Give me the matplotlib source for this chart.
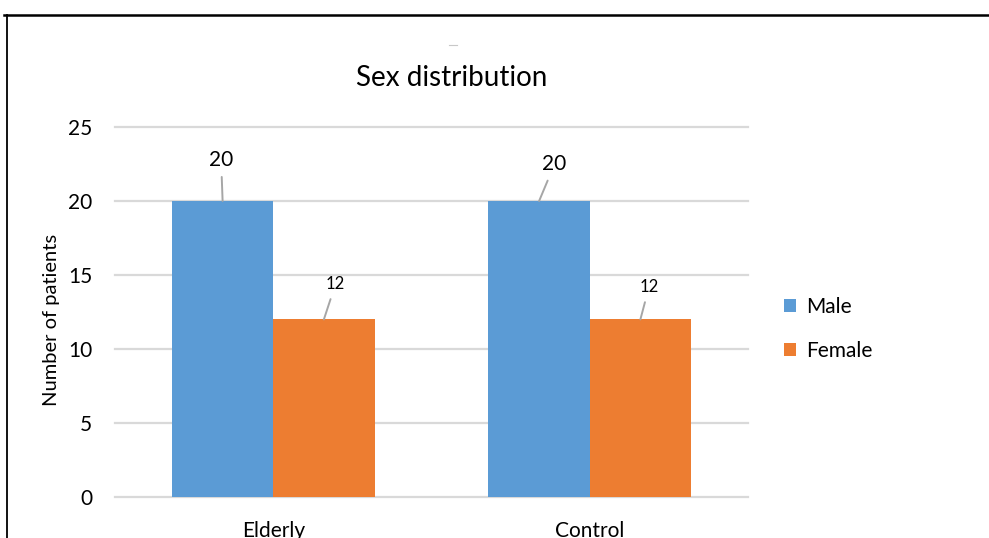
import matplotlib
matplotlib.use("Agg")

import matplotlib.pyplot as plt
from matplotlib.lines import Line2D
import numpy as np

# ── Data ──────────────────────────────────────────────────────────────────
groups = ["Elderly", "Control"]
male = [20, 20]
female = [12, 12]
series_names = ["Male", "Female"]
y_ticks = [0, 5, 10, 15, 20, 25]

# ── Style ─────────────────────────────────────────────────────────────────
plt.rcParams["font.family"] = ["Lato", "DejaVu Sans"]
BLUE = "#5B9BD5"
ORANGE = "#ED7D31"
GRID = "#D9D9D9"
LEADER = "#A6A6A6"

W, H, DPI = 989, 538, 100
fig = plt.figure(figsize=(W / DPI, H / DPI), dpi=DPI)
fig.patch.set_facecolor("white")

# axes box in pixel terms: x 115..748, y 127..497 (top-down)
ax = fig.add_axes([115 / W, 1 - 497 / H, (748 - 115) / W, (497 - 127) / H])

x = np.arange(len(groups))
width = 0.32
bars_m = ax.bar(x - width / 2, male, width, color=BLUE, label=series_names[0], zorder=3)
bars_f = ax.bar(x + width / 2, female, width, color=ORANGE, label=series_names[1], zorder=3)

ax.set_xlim(-0.5, len(groups) - 0.5)
ax.set_ylim(0, 25)
ax.set_yticks(y_ticks)
ax.set_xticks(x)
ax.set_xticklabels(groups, fontsize=15)
ax.tick_params(axis="y", length=0, pad=16.5, labelsize=15, colors="#000000")
ax.tick_params(axis="x", length=0, pad=17)

for s in ax.spines.values():
    s.set_visible(False)
ax.grid(axis="y", color=GRID, linewidth=1.6, zorder=0)
ax.set_axisbelow(True)
for gl in ax.get_ygridlines():
    gl.set_clip_on(False)

# ── Data labels with leader lines ─────────────────────────────────────────
label_offsets = {
    (0, 0): (-1.5, 41), (0, 1): (11.5, 35),
    (1, 0): (15.5, 37), (1, 1): (8.5, 32),
}
for si, bars in enumerate([bars_m, bars_f]):
    for gi, b in enumerate(bars):
        val = b.get_height()
        dx, dy = label_offsets[(gi, si)]
        ax.annotate(
            f"{val:g}",
            xy=(b.get_x() + b.get_width() / 2, val),
            xytext=(dx, dy), textcoords="offset pixels",
            ha="center", va="center",
            fontsize=15 if si == 0 else 12,
            arrowprops=dict(arrowstyle="-", color=LEADER, lw=1.4,
                            shrinkA=3, shrinkB=0),
            zorder=4,
        )

# ── Title, axis label, legend ─────────────────────────────────────────────
fig.text(452 / W, 1 - 78 / H, "Sex distribution", ha="center", va="center", fontsize=20)
fig.text(52 / W, 1 - 320 / H, "Number of patients", ha="center", va="center",
         rotation=90, fontsize=14.5)

ax.legend(loc="center left", bbox_to_anchor=(765 / W, 1 - 329 / H),
          bbox_transform=fig.transFigure, frameon=False, fontsize=15,
          handlelength=0.6, handleheight=0.6, handletextpad=0.45,
          labelspacing=1.15)

# ── Frame lines and small mark above the title ────────────────────────────
fig.add_artist(Line2D([4 / W, 1], [1 - 14.5 / H, 1 - 14.5 / H],
                      transform=fig.transFigure, color="black", lw=1.8))
fig.add_artist(Line2D([7 / W, 7 / W], [1 - 14.5 / H, 0],
                      transform=fig.transFigure, color="black", lw=1.3))
fig.add_artist(Line2D([449 / W, 457 / W], [1 - 45 / H, 1 - 45 / H],
                      transform=fig.transFigure, color="#C8C8C8", lw=0.8))

fig.savefig("out.png", dpi=DPI)
